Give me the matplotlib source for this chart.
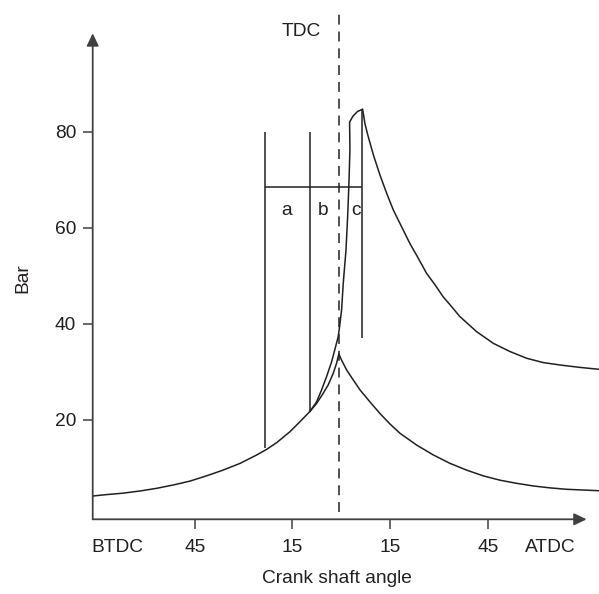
"""
Cylinder pressure vs crank angle (motoring / firing)
"""

import matplotlib.pyplot as plt

plt.rcParams['font.family'] = ['Liberation Sans', 'DejaVu Sans']

# ======================================================
# DATA
# ======================================================

# motoring curve: crank angle (deg, - = before TDC), pressure (bar)
motor_deg = [-76.2, -71.9, -66.8, -61.7, -56.6, -51.5, -46.4, -41.3, -36.2,
             -31.0, -25.9, -22.9, -19.8, -15.7, -12.6, -9.6, -7.5, -5.5,
             -4.0, -2.4, -1.4, -0.7, 0.15, 1.7, 3.7, 5.8, 8.8, 11.9, 15.0,
             18.0, 23.2, 28.3, 33.4, 38.5, 43.6, 48.7, 53.8, 58.9, 64.0,
             69.2, 74.3, 79.1]
motor_bar = [4.1, 4.4, 4.7, 5.15, 5.7, 6.4, 7.2, 8.3, 9.5,
             10.9, 12.65, 13.8, 15.2, 17.5, 19.6, 21.7, 23.4, 25.5,
             27.2, 29.7, 31.75, 33.7, 32.4, 30.35, 28.3, 26.2, 23.75, 21.3, 19.1,
             17.2, 14.7, 12.65, 10.9, 9.5, 8.3, 7.4, 6.75, 6.2, 5.8,
             5.5, 5.35, 5.2]

# firing curve: leaves the motoring curve, combustion, expansion
fire_deg = [-9.6, -7.5, -6.0, -4.45, -2.9, -1.7, -0.9, -0.6, 0.15, 0.65,
            1.5, 2.0, 2.4, 2.7, 2.6, 3.6, 5.0, 6.6, 7.3, 8.3, 9.9, 11.9,
            13.95, 16.0, 18.55, 21.1, 23.7, 26.2, 28.8, 31.3, 33.9, 36.4,
            41.55, 46.7, 51.8, 56.9, 62.0, 67.1, 73.2, 79.1]
fire_bar = [21.7, 23.75, 26.2, 29.0, 32.1, 35.2, 37.3, 38.7, 42.9, 48.4,
            55.4, 62.3, 69.3, 76.2, 82.0, 83.2, 84.2, 84.7, 81.7, 79.0, 75.15, 71.0,
            67.2, 63.7, 60.2, 56.7, 53.6, 50.5, 48.1, 45.6, 43.55, 41.5,
            38.35, 35.9, 34.2, 32.8, 31.9, 31.4, 30.9, 30.5]

# phase markers a / b / c
marker_deg = [-23.4, -9.6, 6.4]
marker_low = [14.0, 21.7, 37.0]
marker_high = [79.9, 80.0, 84.7]
phase_level = 68.5
phase_names = ["a", "b", "c"]
phase_deg = [-16.7, -5.5, 4.5]

xtick_pos = [-68.6, -44.9, -15.0, 15.0, 45.0, 64.2]
xtick_lab = ["BTDC", "45", "15", "15", "45", "ATDC"]
ytick_pos = [20, 40, 60, 80]

# ======================================================
# PLOT
# ======================================================

ink = "#231f20"
axc = "#404040"
fs = 13.8

fig = plt.figure(figsize=(5.99, 5.94), dpi=100)
ax = fig.add_axes([92.7 / 599, (594 - 519.3) / 594,
                   (599 - 92.7) / 599, (519.3 - 9.3) / 594])
ax.set_xlim(-76.2, 79.1)
ax.set_ylim(-0.75, 105.5)

for s in ax.spines.values():
    s.set_visible(False)

# axes with arrow heads
arrow = dict(arrowstyle="-|>,head_length=0.75,head_width=0.36",
             color=axc, lw=1.3, shrinkA=0, shrinkB=0)
ax.annotate("", xy=(75.3, -0.75), xytext=(-76.2, -0.75),
            arrowprops=arrow, annotation_clip=False)
ax.annotate("", xy=(-76.2, 100.5), xytext=(-76.2, -0.75),
            arrowprops=arrow, annotation_clip=False)

# TDC
ax.plot([-0.5, -0.5], [0.8, 105.0], color=ink, lw=1.1, dashes=(6.5, 4.5))
ax.text(-12.1, 100.8, "TDC", ha="center", va="center", fontsize=fs,
        color=ink)

ax.plot(motor_deg, motor_bar, color=ink, lw=1.1)
ax.plot(fire_deg, fire_bar, color=ink, lw=1.1)

ax.vlines(marker_deg, marker_low, marker_high, color=ink, lw=1.1)
ax.hlines(phase_level, marker_deg[0], marker_deg[-1], color=ink, lw=1.1)
for name, d in zip(phase_names, phase_deg):
    ax.text(d, 63.5, name, ha="center", va="center", fontsize=fs,
            color=ink)

ax.set_xticks(xtick_pos)
ax.set_xticklabels(xtick_lab)
ax.set_yticks(ytick_pos)
ax.tick_params(direction="out", length=7, width=1.1, color=axc,
               labelsize=fs, labelcolor=ink)
ax.tick_params(axis="x", pad=7)
ax.tick_params(axis="y", pad=5)
for i in (0, len(xtick_pos) - 1):
    ax.xaxis.get_major_ticks()[i].tick1line.set_visible(False)

ax.set_xlabel("Crank shaft angle", fontsize=fs, color=ink, va="center")
ax.xaxis.set_label_coords(0.4825, -0.117)
ax.set_ylabel("Bar", fontsize=fs, color=ink, va="center")
ax.yaxis.set_label_coords(-0.1377, 0.473)

fig.savefig("out.png", dpi=100)
plt.close(fig)
